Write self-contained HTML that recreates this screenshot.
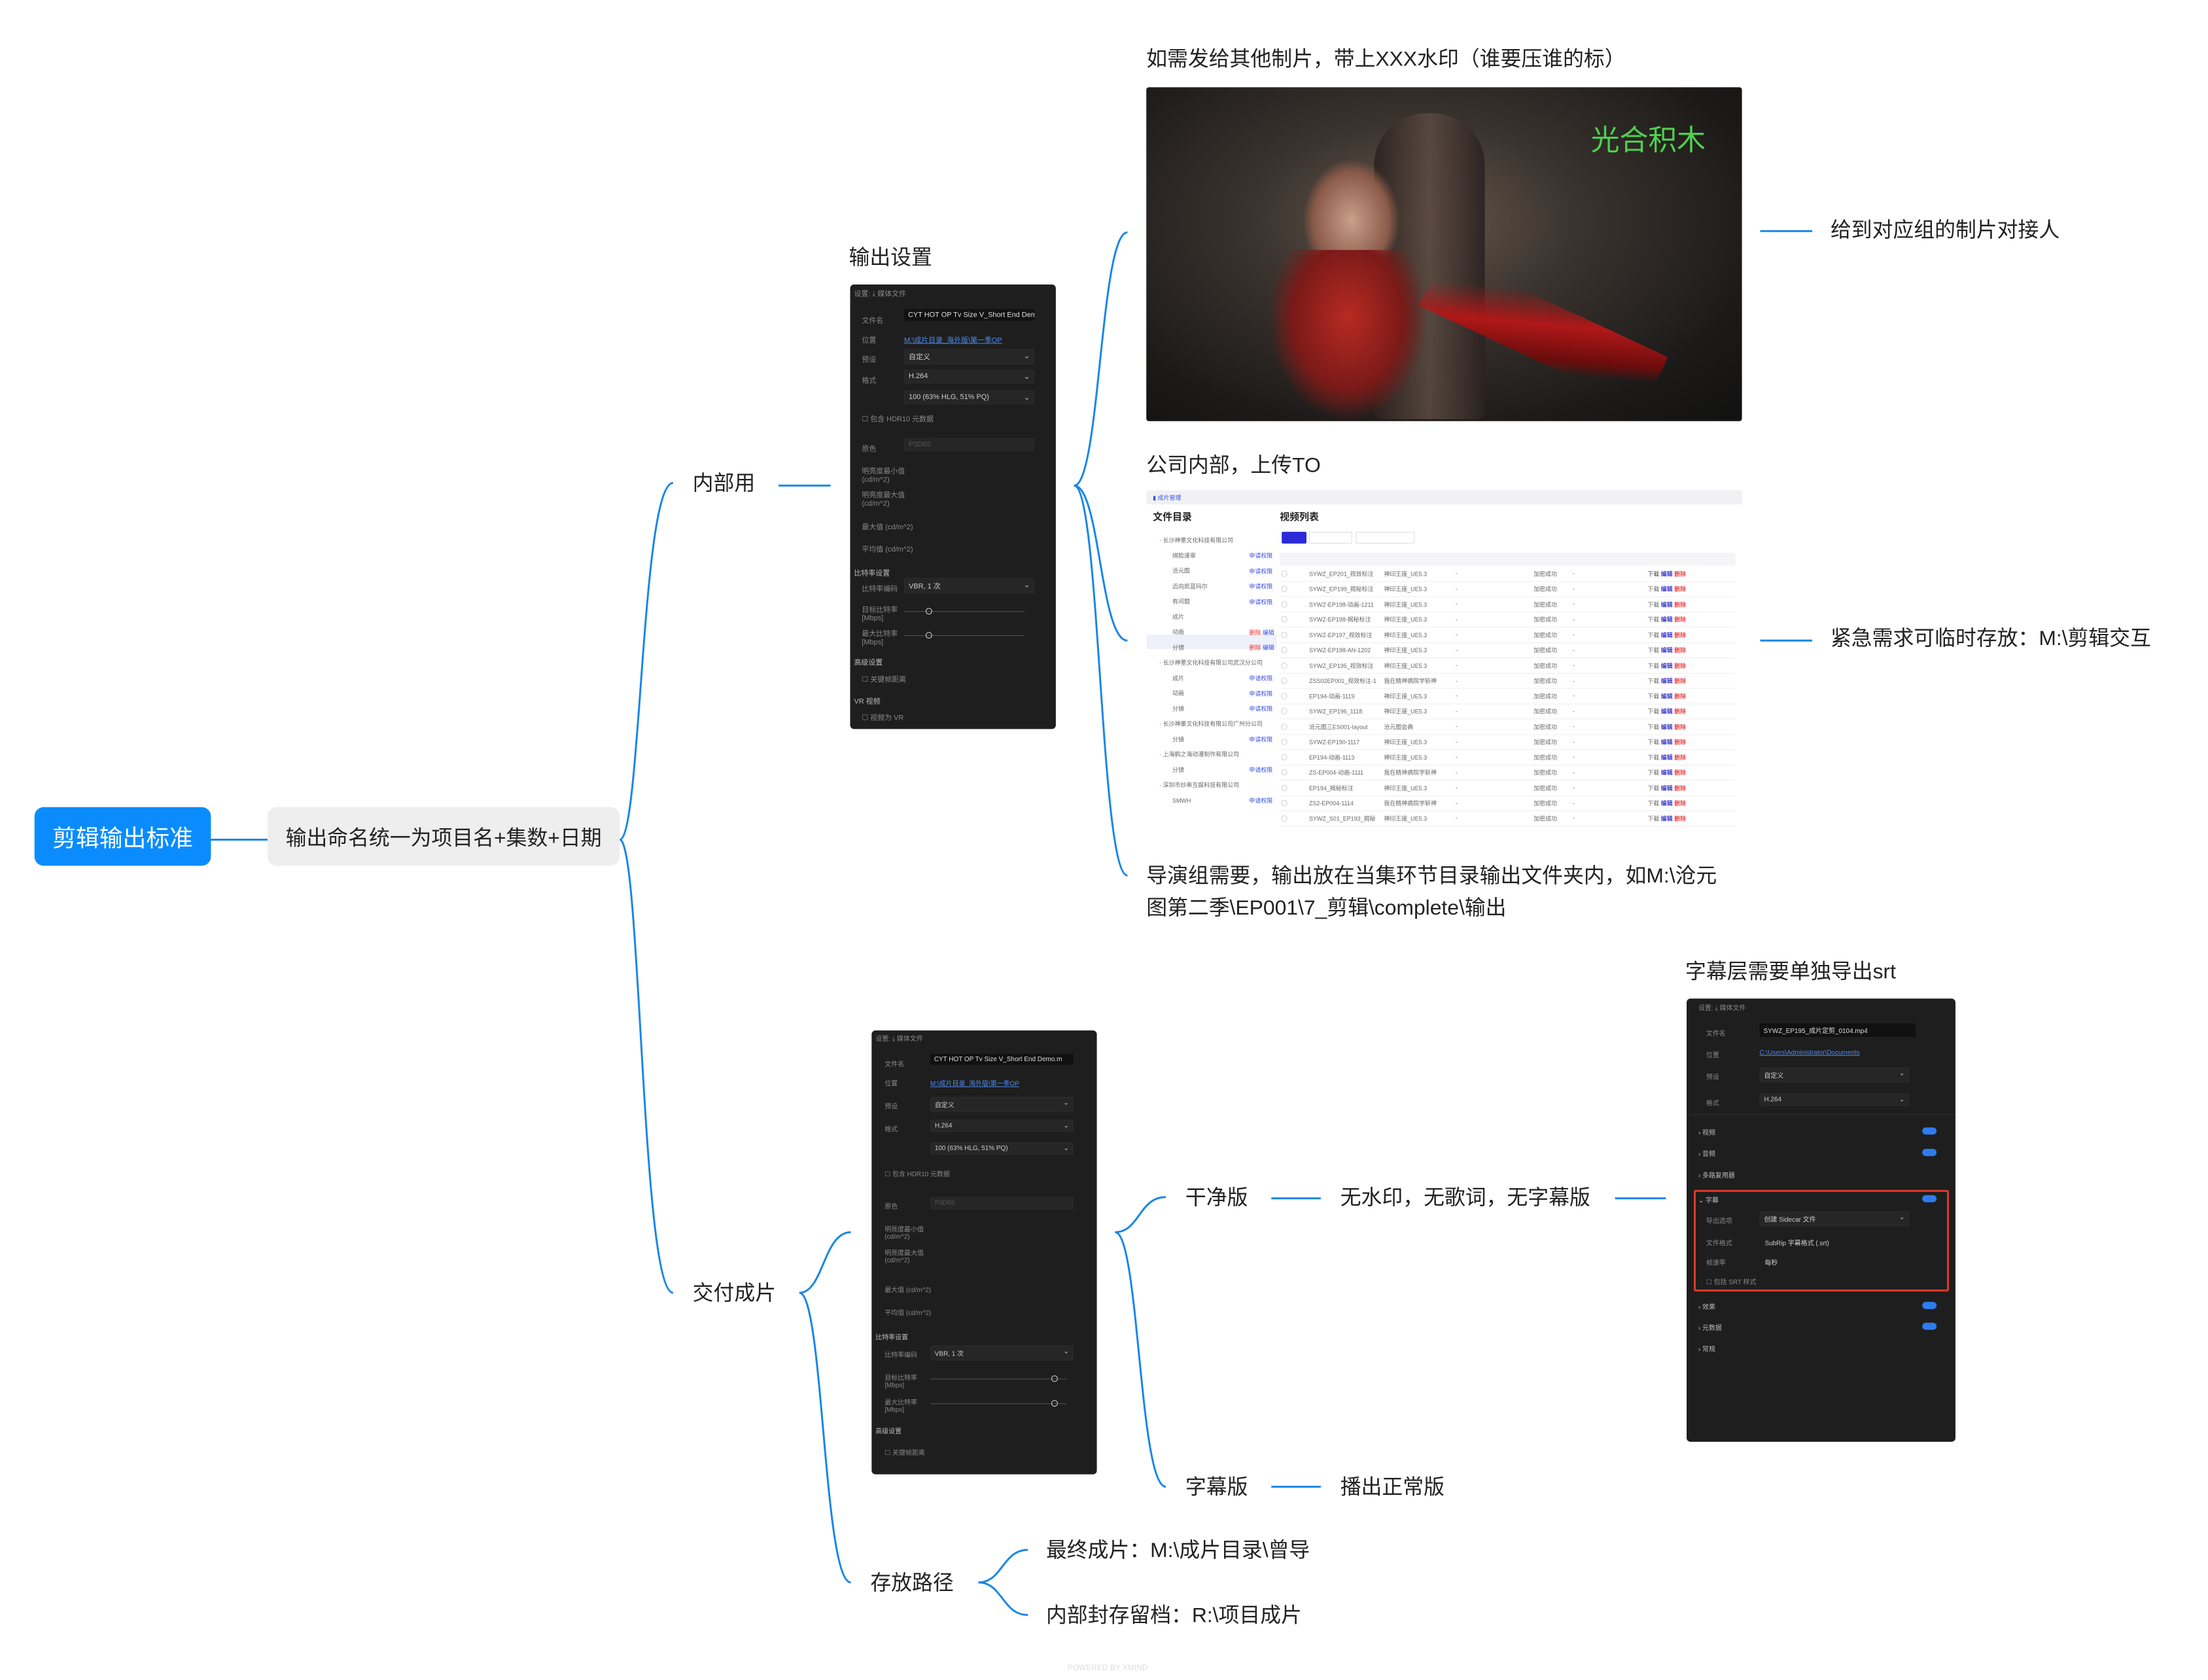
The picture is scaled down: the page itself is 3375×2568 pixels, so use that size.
<!DOCTYPE html>
<html><head><meta charset="utf-8"><style>
*{margin:0;padding:0;box-sizing:border-box}
body{width:3375px;height:2568px;background:#fff;position:relative;overflow:hidden;font-family:"Liberation Sans","Noto Sans CJK SC",sans-serif;color:#222}
#w{position:absolute;left:0;top:0;width:3375px;height:2568px;transform:scale(0.995);transform-origin:0 0}
.t{position:absolute;font-size:32px;white-space:nowrap;line-height:1}
.a{position:absolute}
.dp{position:absolute;background:#1e1e1e;border-radius:6px;overflow:hidden;font-size:10px;color:#888}
.dp .l{position:absolute;white-space:nowrap}
.dp .f{position:absolute;background:#111;border-radius:2px;color:#ddd;padding:3px 6px;white-space:nowrap;overflow:hidden}
.dp .s{position:absolute;background:#262626;border:1px solid #2c2c2c;border-radius:2px;color:#ccc;padding:3px 6px}
.tb{position:absolute;font-size:9px;color:#666}
.row{height:23.5px;border-bottom:1px solid #eee;display:flex;align-items:center}
.row span{display:inline-block;overflow:hidden;white-space:nowrap}
</style></head><body><div id="w">

<svg class="a" style="left:0;top:0" width="3375" height="2568" fill="none" stroke="#1a86e8" stroke-width="3">
<path d="M324 1290 H411"/>
<path d="M952 1290 C985 1290 985 742 1034 742"/>
<path d="M952 1290 C985 1290 985 1986 1034 1986"/>
<path d="M1196 746 H1276"/>
<path d="M1650 746 C1690 746 1690 357 1732 357"/>
<path d="M1650 746 C1690 746 1690 984 1732 984"/>
<path d="M1650 746 C1690 746 1690 1345 1732 1345"/>
<path d="M2704 355 H2784"/>
<path d="M2704 984 H2784"/>
<path d="M1228 1986 C1265 1986 1265 1893 1307 1893"/>
<path d="M1228 1986 C1265 1986 1265 2431 1307 2431"/>
<path d="M1713 1893 C1750 1893 1750 1839 1791 1839"/>
<path d="M1713 1893 C1750 1893 1750 2284 1791 2284"/>
<path d="M1953 1841 H2029"/>
<path d="M2481 1841 H2559"/>
<path d="M1953 2284 H2029"/>
<path d="M1503 2431 C1540 2431 1540 2381 1579 2381"/>
<path d="M1503 2431 C1540 2431 1540 2481 1579 2481"/>
</svg>

<div class="a" style="left:53px;top:1240px;width:271px;height:90px;background:#0a8cff;border-radius:14px;color:#fff;font-size:36px;display:flex;align-items:center;justify-content:center">剪辑输出标准</div>
<div class="a" style="left:411px;top:1240px;width:541px;height:90px;background:#eeeeee;border-radius:14px;color:#222;font-size:32px;display:flex;align-items:center;justify-content:center">输出命名统一为项目名+集数+日期</div>

<div class="t" style="left:1064px;top:726px">内部用</div>
<div class="t" style="left:1064px;top:1970px">交付成片</div>
<div class="t" style="left:1304px;top:379px">输出设置</div>
<div class="t" style="left:1761px;top:74px">如需发给其他制片，带上XXX水印（谁要压谁的标）</div>
<div class="t" style="left:2812px;top:337px">给到对应组的制片对接人</div>
<div class="t" style="left:1761px;top:698px">公司内部，上传TO</div>
<div class="t" style="left:2812px;top:964px">紧急需求可临时存放：M:\剪辑交互</div>
<div class="t" style="left:1761px;top:1329px">导演组需要，输出放在当集环节目录输出文件夹内，如M:\沧元</div>
<div class="t" style="left:1761px;top:1378px">图第二季\EP001\7_剪辑\complete\输出</div>
<div class="t" style="left:2589px;top:1476px">字幕层需要单独导出srt</div>
<div class="t" style="left:1821px;top:1823px">干净版</div>
<div class="t" style="left:2059px;top:1823px">无水印，无歌词，无字幕版</div>
<div class="t" style="left:1821px;top:2268px">字幕版</div>
<div class="t" style="left:2059px;top:2268px">播出正常版</div>
<div class="t" style="left:1337px;top:2415px">存放路径</div>
<div class="t" style="left:1607px;top:2365px">最终成片：M:\成片目录\曾导</div>
<div class="t" style="left:1607px;top:2465px">内部封存留档：R:\项目成片</div>
<div class="t" style="left:1640px;top:2556px;font-size:12px;color:#ddd">POWERED BY XMIND</div>

<!-- image 1 -->
<div class="a" style="left:1761px;top:134px;width:915px;height:513px;border-radius:4px;overflow:hidden;background:radial-gradient(ellipse at 45% 40%,#6a5a4e 0%,#3a332e 35%,#1c1a19 75%,#111 100%)">
 <div class="a" style="left:350px;top:40px;width:170px;height:470px;background:linear-gradient(90deg,#2a2220,#5a4a40,#2a2220);border-radius:80px 80px 10px 10px;opacity:.9"></div>
 <div class="a" style="left:240px;top:110px;width:150px;height:190px;background:radial-gradient(ellipse,#c9a08a 0%,#8a5a48 55%,transparent 70%)"></div>
 <div class="a" style="left:190px;top:250px;width:240px;height:260px;background:radial-gradient(ellipse at 50% 40%,#b82a22 0%,#7a1a18 50%,transparent 72%)"></div>
 <div class="a" style="left:420px;top:330px;width:380px;height:90px;background:linear-gradient(160deg,transparent 20%,#b01818 45%,#6a0c0c 70%,transparent 80%);transform:rotate(25deg)"></div>
 <div class="a" style="left:683px;top:45px;font-size:44px;color:#4fd04f;font-family:'Noto Sans CJK SC',sans-serif">光合积木</div>
</div>

<!-- screenshot 2 -->
<div class="a" style="left:1761px;top:753px;width:915px;height:523px;background:#fff;overflow:hidden">
 <div class="a" style="left:0;top:0;width:915px;height:22px;background:#f1f1f3"><span class="tb" style="left:10px;top:5px;color:#3355dd">▮ 成片管理</span></div>
 <div class="a" style="left:10px;top:30px;font-size:15px;font-weight:bold">文件目录</div>
 <div class="a" style="left:205px;top:30px;font-size:15px;font-weight:bold">视频列表</div>
 <div class="a" style="left:0;top:222px;width:200px;height:22px;background:#eef0fa"></div>
 <div class="tb" style="left:20px;top:66px;line-height:23.5px">· 长沙神墨文化科技有限公司<br>&nbsp;&nbsp;&nbsp;&nbsp;&nbsp;&nbsp;&nbsp;&nbsp;绑脸速审<br>&nbsp;&nbsp;&nbsp;&nbsp;&nbsp;&nbsp;&nbsp;&nbsp;沧元图<br>&nbsp;&nbsp;&nbsp;&nbsp;&nbsp;&nbsp;&nbsp;&nbsp;迈向凯蓝玛尔<br>&nbsp;&nbsp;&nbsp;&nbsp;&nbsp;&nbsp;&nbsp;&nbsp;有问题<br>&nbsp;&nbsp;&nbsp;&nbsp;&nbsp;&nbsp;&nbsp;&nbsp;成片<br>&nbsp;&nbsp;&nbsp;&nbsp;&nbsp;&nbsp;&nbsp;&nbsp;动画<br>&nbsp;&nbsp;&nbsp;&nbsp;&nbsp;&nbsp;&nbsp;&nbsp;分镜<br>· 长沙神墨文化科技有限公司武汉分公司<br>&nbsp;&nbsp;&nbsp;&nbsp;&nbsp;&nbsp;&nbsp;&nbsp;成片<br>&nbsp;&nbsp;&nbsp;&nbsp;&nbsp;&nbsp;&nbsp;&nbsp;动画<br>&nbsp;&nbsp;&nbsp;&nbsp;&nbsp;&nbsp;&nbsp;&nbsp;分镜<br>· 长沙神墨文化科技有限公司广州分公司<br>&nbsp;&nbsp;&nbsp;&nbsp;&nbsp;&nbsp;&nbsp;&nbsp;分镜<br>· 上海鹤之海动漫制作有限公司<br>&nbsp;&nbsp;&nbsp;&nbsp;&nbsp;&nbsp;&nbsp;&nbsp;分镜<br>· 深圳市炒串互娱科技有限公司<br>&nbsp;&nbsp;&nbsp;&nbsp;&nbsp;&nbsp;&nbsp;&nbsp;SMWH</div>
 <div class="tb" style="left:158px;top:90px;line-height:23.5px;color:#3a4fe0">申请权限<br>申请权限<br>申请权限<br>申请权限<br><br><span style="color:#e33">删除</span> 编辑<br><span style="color:#e33">删除</span> 编辑<br><br>申请权限<br>申请权限<br>申请权限<br><br>申请权限<br><br>申请权限<br><br>申请权限</div>
 <div class="a" style="left:208px;top:64px;width:38px;height:18px;background:#2b2bd8;border-radius:2px"></div>
 <div class="a" style="left:250px;top:64px;width:66px;height:18px;border:1px solid #ddd"></div>
 <div class="a" style="left:322px;top:64px;width:90px;height:18px;border:1px solid #ddd"></div>
 <div class="a" style="left:205px;top:96px;width:700px;height:20px;background:#f5f5f7"></div>
 <div class="tb" style="left:205px;top:117px;width:700px">
  <div class="row"><span style="width:45px">&nbsp;◯</span><span style="width:115px">SYWZ_EP201_视效标注</span><span style="width:110px">神印王座_UE5.3</span><span style="width:120px">-</span><span style="width:60px">加密成功</span><span style="width:115px">-</span><span style="color:#444">下载 <b style="color:#33c">编辑</b> <b style="color:#e44">删除</b></span></div>
  <div class="row"><span style="width:45px">&nbsp;◯</span><span style="width:115px">SYWZ_EP199_揭秘标注</span><span style="width:110px">神印王座_UE5.3</span><span style="width:120px">-</span><span style="width:60px">加密成功</span><span style="width:115px">-</span><span>下载 <b style="color:#33c">编辑</b> <b style="color:#e44">删除</b></span></div>
  <div class="row"><span style="width:45px">&nbsp;◯</span><span style="width:115px">SYWZ-EP198-动画-1211</span><span style="width:110px">神印王座_UE5.3</span><span style="width:120px">-</span><span style="width:60px">加密成功</span><span style="width:115px">-</span><span>下载 <b style="color:#33c">编辑</b> <b style="color:#e44">删除</b></span></div>
  <div class="row"><span style="width:45px">&nbsp;◯</span><span style="width:115px">SYWZ-EP198-揭秘标注</span><span style="width:110px">神印王座_UE5.3</span><span style="width:120px">-</span><span style="width:60px">加密成功</span><span style="width:115px">-</span><span>下载 <b style="color:#33c">编辑</b> <b style="color:#e44">删除</b></span></div>
  <div class="row"><span style="width:45px">&nbsp;◯</span><span style="width:115px">SYWZ-EP197_视效标注</span><span style="width:110px">神印王座_UE5.3</span><span style="width:120px">-</span><span style="width:60px">加密成功</span><span style="width:115px">-</span><span>下载 <b style="color:#33c">编辑</b> <b style="color:#e44">删除</b></span></div>
  <div class="row"><span style="width:45px">&nbsp;◯</span><span style="width:115px">SYWZ-EP198-AN-1202</span><span style="width:110px">神印王座_UE5.3</span><span style="width:120px">-</span><span style="width:60px">加密成功</span><span style="width:115px">-</span><span>下载 <b style="color:#33c">编辑</b> <b style="color:#e44">删除</b></span></div>
  <div class="row"><span style="width:45px">&nbsp;◯</span><span style="width:115px">SYWZ_EP195_视效标注</span><span style="width:110px">神印王座_UE5.3</span><span style="width:120px">-</span><span style="width:60px">加密成功</span><span style="width:115px">-</span><span>下载 <b style="color:#33c">编辑</b> <b style="color:#e44">删除</b></span></div>
  <div class="row"><span style="width:45px">&nbsp;◯</span><span style="width:115px">ZSS02EP001_视效标注-1</span><span style="width:110px">我在精神病院学斩神</span><span style="width:120px">-</span><span style="width:60px">加密成功</span><span style="width:115px">-</span><span>下载 <b style="color:#33c">编辑</b> <b style="color:#e44">删除</b></span></div>
  <div class="row"><span style="width:45px">&nbsp;◯</span><span style="width:115px">EP194-动画-1119</span><span style="width:110px">神印王座_UE5.3</span><span style="width:120px">-</span><span style="width:60px">加密成功</span><span style="width:115px">-</span><span>下载 <b style="color:#33c">编辑</b> <b style="color:#e44">删除</b></span></div>
  <div class="row"><span style="width:45px">&nbsp;◯</span><span style="width:115px">SYWZ_EP196_1118</span><span style="width:110px">神印王座_UE5.3</span><span style="width:120px">-</span><span style="width:60px">加密成功</span><span style="width:115px">-</span><span>下载 <b style="color:#33c">编辑</b> <b style="color:#e44">删除</b></span></div>
  <div class="row"><span style="width:45px">&nbsp;◯</span><span style="width:115px">沧元图三ES001-layout</span><span style="width:110px">沧元图会典</span><span style="width:120px">-</span><span style="width:60px">加密成功</span><span style="width:115px">-</span><span>下载 <b style="color:#33c">编辑</b> <b style="color:#e44">删除</b></span></div>
  <div class="row"><span style="width:45px">&nbsp;◯</span><span style="width:115px">SYWZ-EP190-1117</span><span style="width:110px">神印王座_UE5.3</span><span style="width:120px">-</span><span style="width:60px">加密成功</span><span style="width:115px">-</span><span>下载 <b style="color:#33c">编辑</b> <b style="color:#e44">删除</b></span></div>
  <div class="row"><span style="width:45px">&nbsp;◯</span><span style="width:115px">EP194-动画-1113</span><span style="width:110px">神印王座_UE5.3</span><span style="width:120px">-</span><span style="width:60px">加密成功</span><span style="width:115px">-</span><span>下载 <b style="color:#33c">编辑</b> <b style="color:#e44">删除</b></span></div>
  <div class="row"><span style="width:45px">&nbsp;◯</span><span style="width:115px">ZS-EP004-动画-1111</span><span style="width:110px">我在精神病院学斩神</span><span style="width:120px">-</span><span style="width:60px">加密成功</span><span style="width:115px">-</span><span>下载 <b style="color:#33c">编辑</b> <b style="color:#e44">删除</b></span></div>
  <div class="row"><span style="width:45px">&nbsp;◯</span><span style="width:115px">EP194_揭秘标注</span><span style="width:110px">神印王座_UE5.3</span><span style="width:120px">-</span><span style="width:60px">加密成功</span><span style="width:115px">-</span><span>下载 <b style="color:#33c">编辑</b> <b style="color:#e44">删除</b></span></div>
  <div class="row"><span style="width:45px">&nbsp;◯</span><span style="width:115px">ZS2-EP004-1114</span><span style="width:110px">我在精神病院学斩神</span><span style="width:120px">-</span><span style="width:60px">加密成功</span><span style="width:115px">-</span><span>下载 <b style="color:#33c">编辑</b> <b style="color:#e44">删除</b></span></div>
  <div class="row"><span style="width:45px">&nbsp;◯</span><span style="width:115px">SYWZ_S01_EP193_揭秘</span><span style="width:110px">神印王座_UE5.3</span><span style="width:120px">-</span><span style="width:60px">加密成功</span><span style="width:115px">-</span><span>下载 <b style="color:#33c">编辑</b> <b style="color:#e44">删除</b></span></div>
 </div>
</div>

<!-- dark panel 1 -->
<div class="dp" style="left:1306px;top:437px;width:316px;height:683px;font-size:11px">
 <div class="l" style="left:6px;top:6px">设置: ⤓ 媒体文件</div>
 <div class="l" style="left:18px;top:47px">文件名</div><div class="f" style="left:83px;top:38px;width:200px">CYT HOT OP Tv Size V_Short End Demo.m</div>
 <div class="l" style="left:18px;top:77px">位置</div><div class="l" style="left:83px;top:77px;color:#4a8af0;text-decoration:underline">M:\成片目录_海外版\第一季OP</div>
 <div class="l" style="left:18px;top:107px">预设</div><div class="s" style="left:83px;top:99px;width:200px">自定义 <span style="float:right">⌄</span></div>
 <div class="l" style="left:18px;top:139px">格式</div><div class="s" style="left:83px;top:131px;width:200px">H.264 <span style="float:right">⌄</span></div>
 <div class="s" style="left:83px;top:163px;width:200px">100 (63% HLG, 51% PQ) <span style="float:right">⌄</span></div>
 <div class="l" style="left:18px;top:198px">☐ 包含 HDR10 元数据</div>
 <div class="l" style="left:18px;top:244px">原色</div><div class="s" style="left:83px;top:236px;width:200px;color:#555">P3D65</div>
 <div class="l" style="left:18px;top:278px">明亮度最小值<br>(cd/m^2)</div>
 <div class="l" style="left:18px;top:315px">明亮度最大值<br>(cd/m^2)</div>
 <div class="l" style="left:18px;top:364px">最大值 (cd/m^2)</div>
 <div class="l" style="left:18px;top:398px">平均值 (cd/m^2)</div>
 <div class="l" style="left:6px;top:435px;color:#bbb">比特率设置</div>
 <div class="l" style="left:18px;top:459px">比特率编码</div><div class="s" style="left:83px;top:451px;width:200px">VBR, 1 次 <span style="float:right">⌄</span></div>
 <div class="l" style="left:18px;top:491px">目标比特率<br>[Mbps]</div><div class="a" style="left:83px;top:502px;width:185px;height:1px;background:#555"></div><div class="a" style="left:116px;top:497px;width:10px;height:10px;border:1.5px solid #ddd;border-radius:50%"></div>
 <div class="l" style="left:18px;top:528px">最大比特率<br>[Mbps]</div><div class="a" style="left:83px;top:539px;width:185px;height:1px;background:#555"></div><div class="a" style="left:116px;top:534px;width:10px;height:10px;border:1.5px solid #ddd;border-radius:50%"></div>
 <div class="l" style="left:6px;top:572px;color:#bbb">高级设置</div>
 <div class="l" style="left:18px;top:598px">☐ 关键帧距离</div>
 <div class="l" style="left:6px;top:632px;color:#bbb">VR 视频</div>
 <div class="l" style="left:18px;top:657px">☐ 视频为 VR</div>
</div>

<!-- dark panel 2 -->
<div class="dp" style="left:1339px;top:1583px;width:346px;height:682px">
 <div class="l" style="left:6px;top:4px">设置: ⤓ 媒体文件</div>
 <div class="l" style="left:20px;top:43px">文件名</div><div class="f" style="left:90px;top:36px;width:220px">CYT HOT OP Tv Size V_Short End Demo.m</div>
 <div class="l" style="left:20px;top:73px">位置</div><div class="l" style="left:90px;top:73px;color:#4a8af0;text-decoration:underline">M:\成片目录_海外版\第一季OP</div>
 <div class="l" style="left:20px;top:108px">预设</div><div class="s" style="left:90px;top:102px;width:220px">自定义 <span style="float:right">⌄</span></div>
 <div class="l" style="left:20px;top:143px">格式</div><div class="s" style="left:90px;top:137px;width:220px">H.264 <span style="float:right">⌄</span></div>
 <div class="s" style="left:90px;top:172px;width:220px">100 (63% HLG, 51% PQ) <span style="float:right">⌄</span></div>
 <div class="l" style="left:20px;top:212px">☐ 包含 HDR10 元数据</div>
 <div class="l" style="left:20px;top:262px">原色</div><div class="s" style="left:90px;top:256px;width:220px;color:#555">P3D65</div>
 <div class="l" style="left:20px;top:297px">明亮度最小值<br>(cd/m^2)</div>
 <div class="l" style="left:20px;top:333px">明亮度最大值<br>(cd/m^2)</div>
 <div class="l" style="left:20px;top:390px">最大值 (cd/m^2)</div>
 <div class="l" style="left:20px;top:425px">平均值 (cd/m^2)</div>
 <div class="l" style="left:6px;top:463px;color:#bbb">比特率设置</div>
 <div class="l" style="left:20px;top:490px">比特率编码</div><div class="s" style="left:90px;top:484px;width:220px">VBR, 1 次 <span style="float:right">⌄</span></div>
 <div class="l" style="left:20px;top:525px">目标比特率<br>[Mbps]</div><div class="a" style="left:90px;top:535px;width:210px;height:1px;background:#555"></div><div class="a" style="left:276px;top:530px;width:10px;height:10px;border:1.5px solid #ddd;border-radius:50%"></div>
 <div class="l" style="left:20px;top:563px">最大比特率<br>[Mbps]</div><div class="a" style="left:90px;top:573px;width:210px;height:1px;background:#555"></div><div class="a" style="left:276px;top:568px;width:10px;height:10px;border:1.5px solid #ddd;border-radius:50%"></div>
 <div class="l" style="left:6px;top:607px;color:#bbb">高级设置</div>
 <div class="l" style="left:20px;top:640px">☐ 关键帧距离</div>
</div>

<!-- dark panel 3 -->
<div class="dp" style="left:2591px;top:1534px;width:413px;height:681px">
 <div class="l" style="left:18px;top:6px">设置: ⤓ 媒体文件</div>
 <div class="l" style="left:30px;top:45px">文件名</div><div class="f" style="left:112px;top:38px;width:240px">SYWZ_EP195_成片定剪_0104.mp4</div>
 <div class="l" style="left:30px;top:78px">位置</div><div class="l" style="left:112px;top:78px;color:#4a8af0;text-decoration:underline">C:\Users\Administrator\Documents</div>
 <div class="l" style="left:30px;top:112px">预设</div><div class="s" style="left:112px;top:106px;width:230px">自定义 <span style="float:right">⌄</span></div>
 <div class="l" style="left:30px;top:152px">格式</div><div class="s" style="left:112px;top:146px;width:230px">H.264 <span style="float:right">⌄</span></div>
 <div class="a" style="left:0;top:178px;width:413px;height:1px;background:#333"></div>
 <div class="l" style="left:18px;top:197px;color:#bbb">› 视频</div><div class="a" style="left:362px;top:198px;width:22px;height:11px;background:#2d7cf0;border-radius:6px"></div>
 <div class="l" style="left:18px;top:230px;color:#bbb">› 音频</div><div class="a" style="left:362px;top:231px;width:22px;height:11px;background:#2d7cf0;border-radius:6px"></div>
 <div class="l" style="left:18px;top:263px;color:#bbb">› 多路复用器</div>
 <div class="a" style="left:11px;top:294px;width:392px;height:156px;border:3px solid #e03a2a;border-radius:3px"></div>
 <div class="l" style="left:18px;top:301px;color:#bbb">⌄ 字幕</div><div class="a" style="left:362px;top:302px;width:22px;height:11px;background:#2d7cf0;border-radius:6px"></div>
 <div class="l" style="left:30px;top:333px">导出选项</div><div class="s" style="left:112px;top:327px;width:230px">创建 Sidecar 文件 <span style="float:right">⌄</span></div>
 <div class="l" style="left:30px;top:367px">文件格式</div><div class="l" style="left:120px;top:367px;color:#ccc">SubRip 字幕格式 (.srt)</div>
 <div class="l" style="left:30px;top:397px">帧速率</div><div class="l" style="left:120px;top:397px;color:#ccc">每秒</div>
 <div class="l" style="left:30px;top:427px">☐ 包括 SRT 样式</div>
 <div class="l" style="left:18px;top:465px;color:#bbb">› 效果</div><div class="a" style="left:362px;top:466px;width:22px;height:11px;background:#2d7cf0;border-radius:6px"></div>
 <div class="l" style="left:18px;top:497px;color:#bbb">› 元数据</div><div class="a" style="left:362px;top:498px;width:22px;height:11px;background:#2d7cf0;border-radius:6px"></div>
 <div class="l" style="left:18px;top:530px;color:#bbb">› 常规</div>
</div>

</div></body></html>
